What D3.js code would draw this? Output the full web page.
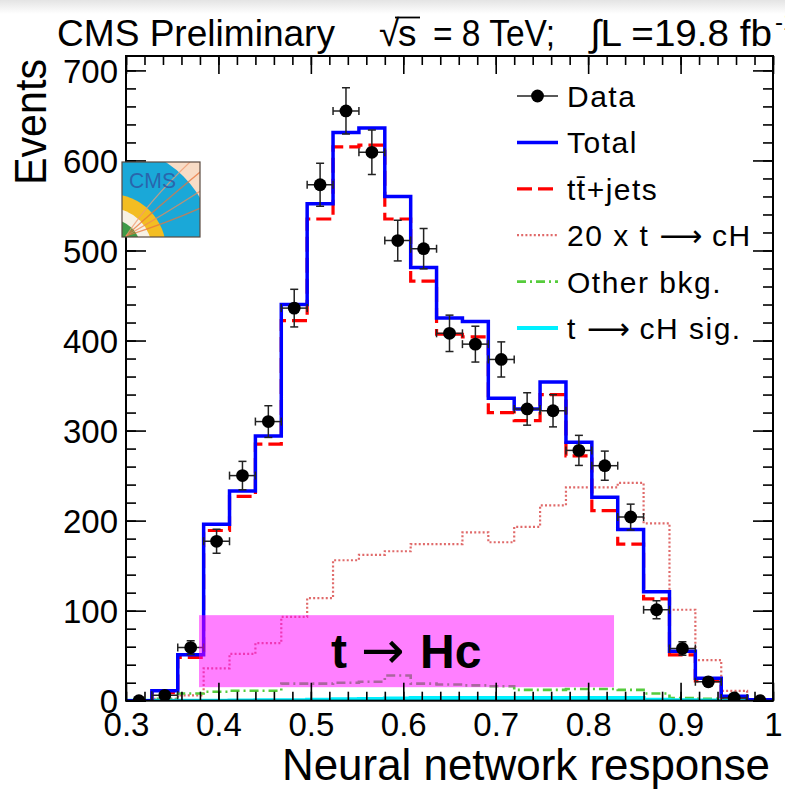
<!DOCTYPE html>
<html><head><meta charset="utf-8">
<script src="https://cdn.jsdelivr.net/npm/d3@7"></script>
<style>
html,body{margin:0;padding:0;background:#fff;}
svg{display:block;}
text{font-family:"Liberation Sans",Arial,Helvetica,sans-serif;}
</style></head>
<body>
<svg id="chart" width="785" height="789"></svg>
<script>
// Neural network response, 25 bins from 0.3 to 1.0
const xLow = 0.3, xHigh = 1.0, nBins = 25;
const dataCounts = [0, 6, 59, 177, 250, 310, 436, 573, 655, 609, 511, 502, 408, 396, 379, 324, 322, 278, 261, 204, 101, 58, 21, 3, 0];
const dataErrors = [0, 2.4, 7.7, 13.3, 15.8, 17.6, 20.9, 23.9, 25.6, 24.7, 22.6, 22.4, 20.2, 19.9, 19.5, 18.0, 17.9, 16.7, 16.2, 14.3, 10.0, 7.6, 4.6, 1.7, 0];
const totalPred = [0, 11, 51, 196, 233, 294, 440, 552, 631, 636, 560, 481, 425, 421, 336, 324, 354, 287, 226, 190, 121, 55, 25, 5, 1];
const ttJets = [0, 9, 48, 189, 227, 285, 422, 535, 615, 617, 535, 466, 407, 404, 320, 311, 340, 272, 211, 174, 113, 51, 22, 4, 1];
const signalX20 = [0, 2, 6, 36, 52, 64, 93, 114, 156, 162, 166, 174, 174, 187, 176, 193, 217, 237, 237, 242, 197, 101, 45, 11, 1];
const otherBkg = [0.5, 2, 8, 10, 11, 11, 19, 19, 20, 21, 28, 19, 18, 17, 16, 12, 12, 13, 13, 12, 8, 3, 2, 1, 0.5];
const signal = [0, 0, 0, 0, 0.2, 0.4, 0.6, 1, 1.5, 2, 2.5, 3, 3, 3, 3, 3, 3, 3, 3, 3, 1, 0.5, 0.2, 0, 0];

const xTickValues = [0.3, 0.4, 0.5, 0.6, 0.7, 0.8, 0.9, 1.0];
const xTickLabels = ["0.3", "0.4", "0.5", "0.6", "0.7", "0.8", "0.9", "1"];
const yTickValues = [0, 100, 200, 300, 400, 500, 600, 700];
const yTickLabels = ["0", "100", "200", "300", "400", "500", "600", "700"];
// legend entries: [text before arrow, arrow?, text after arrow]
const legendLabels = [["Data"], ["Total"], ["tt\u0304+jets"], ["20 x t ", "\u27F6", " cH"], ["Other bkg."], ["t ", "\u27F6", " cH sig."]];

const svg = d3.select("#chart");
const W = 785, H = 789;
const frame = {left: 126, right: 773, top: 56, bottom: 700.7};
const yMax = 716;

const x = d3.scaleLinear().domain([xLow, xHigh]).range([frame.left, frame.right]);
const y = d3.scaleLinear().domain([0, yMax]).range([frame.bottom, frame.top]);
const binW = (xHigh - xLow) / nBins;
const edges = d3.range(nBins + 1).map(i => xLow + i * binW);

const defs = svg.append("defs");
const grad = defs.append("linearGradient").attr("id", "topShade").attr("x1", 0).attr("y1", 0).attr("x2", 0).attr("y2", 1);
grad.append("stop").attr("offset", "0%").attr("stop-color", "#e4e4e4");
grad.append("stop").attr("offset", "100%").attr("stop-color", "#ffffff");
defs.append("clipPath").attr("id", "plotClip").append("rect")
  .attr("x", frame.left).attr("y", frame.top)
  .attr("width", frame.right - frame.left).attr("height", frame.bottom - frame.top);

svg.append("rect").attr("width", W).attr("height", H).attr("fill", "#fff");
svg.append("rect").attr("width", W).attr("height", 14).attr("fill", "url(#topShade)");

// header
svg.append("text").attr("x", 57).attr("y", 46).attr("font-size", 37)
  .attr("textLength", 278).attr("lengthAdjust", "spacingAndGlyphs").text("CMS Preliminary");
const hdr = svg.append("g").attr("font-size", 37);
hdr.append("text").attr("x", 379).attr("y", 46).text("\u221A");
hdr.append("text").attr("x", 398).attr("y", 46).text("s");
hdr.append("line").attr("x1", 395).attr("x2", 420).attr("y1", 17.5).attr("y2", 17.5).attr("stroke", "#000").attr("stroke-width", 1.8);
hdr.append("text").attr("x", 433).attr("y", 46).attr("textLength", 122).attr("lengthAdjust", "spacingAndGlyphs").text("= 8 TeV;");
hdr.append("text").attr("x", 590).attr("y", 46).attr("textLength", 182).attr("lengthAdjust", "spacingAndGlyphs").text("\u222BL =19.8 fb");
hdr.append("text").attr("x", 775).attr("y", 30).attr("font-size", 24).text("-1");

// histograms
const step = d3.line().x(d => x(d[0])).y(d => y(d[1])).curve(d3.curveStepAfter);
const histPts = vals => vals.map((v, i) => [edges[i], v]).concat([[edges[nBins], vals[nBins - 1]]]);
const plot = svg.append("g").attr("clip-path", "url(#plotClip)");

const styles = {
  sig20: {stroke: "#e06a6a", width: 2.2, dash: "2,2.2"},
  other: {stroke: "#55cc3c", width: 2.6, dash: "9,4,2,4"},
  sig: {stroke: "#00f0ff", width: 4, dash: null},
  tt: {stroke: "#ff0000", width: 3.2, dash: "15,6"},
  total: {stroke: "#0000ff", width: 3.5, dash: null}
};
const drawHist = (vals, s) => plot.append("path").attr("d", step(histPts(vals)))
  .attr("fill", "none").attr("stroke", s.stroke).attr("stroke-width", s.width)
  .attr("stroke-dasharray", s.dash);
drawHist(signalX20, styles.sig20);
drawHist(otherBkg, styles.other);
drawHist(signal, styles.sig);
drawHist(ttJets, styles.tt);
drawHist(totalPred, styles.total);

// data points with error bars
const pts = plot.append("g").attr("stroke", "#222").attr("stroke-width", 1.5);
dataCounts.forEach((v, i) => {
  const cx = x(edges[i] + binW / 2), cy = y(v);
  const xl = x(edges[i]), xr = x(edges[i + 1]);
  pts.append("line").attr("x1", xl).attr("x2", xr).attr("y1", cy).attr("y2", cy);
  pts.append("line").attr("x1", xl).attr("x2", xl).attr("y1", cy - 4).attr("y2", cy + 4);
  pts.append("line").attr("x1", xr).attr("x2", xr).attr("y1", cy - 4).attr("y2", cy + 4);
  const e = dataErrors[i];
  if (e > 0) {
    const yt = y(v + e), yb = y(Math.max(0, v - e));
    pts.append("line").attr("x1", cx).attr("x2", cx).attr("y1", yt).attr("y2", yb);
    pts.append("line").attr("x1", cx - 4).attr("x2", cx + 4).attr("y1", yt).attr("y2", yt);
    pts.append("line").attr("x1", cx - 4).attr("x2", cx + 4).attr("y1", yb).attr("y2", yb);
  }
});
plot.append("g").selectAll("circle").data(dataCounts).join("circle")
  .attr("cx", (d, i) => x(edges[i] + binW / 2)).attr("cy", d => y(d))
  .attr("r", 6.4).attr("fill", "#000");

// highlighted region label
const boxX = [0.379, 0.828], boxY = [15, 95];
svg.append("rect").attr("x", x(boxX[0])).attr("y", y(boxY[1]))
  .attr("width", x(boxX[1]) - x(boxX[0])).attr("height", y(boxY[0]) - y(boxY[1]))
  .attr("fill", "#ff00ff").attr("fill-opacity", 0.5);
const boxLabel = svg.append("text").attr("y", 668).attr("font-size", 48).attr("font-weight", "bold");
boxLabel.append("tspan").attr("x", 331).text("t");
boxLabel.append("tspan").attr("x", 361).attr("font-family", "DejaVu Sans, sans-serif")
  .attr("font-weight", "normal").attr("font-size", 52).text("\u2192");
boxLabel.append("tspan").attr("x", 420).text("Hc");

// axes: inward ticks on all four sides
const axG = svg.append("g").attr("font-size", 33);
const minorX = d3.range(0, 36).map(i => xLow + i * 0.02).filter(v => v <= xHigh + 1e-9);
const minorY = d3.range(0, 36).map(i => i * 20).filter(v => v <= yMax);
const styleAxis = g => { g.select(".domain").remove(); g.selectAll("line").attr("stroke", "#000").attr("stroke-width", 1.6); };

axG.append("g").attr("transform", `translate(0,${frame.bottom})`)
  .call(d3.axisBottom(x).tickValues(minorX).tickSize(-9).tickFormat("")).call(styleAxis);
axG.append("g").attr("transform", `translate(0,${frame.bottom})`)
  .call(d3.axisBottom(x).tickValues(xTickValues).tickSize(-18).tickFormat((d, i) => xTickLabels[i]))
  .call(styleAxis)
  .call(g => g.selectAll("text").attr("y", 35).attr("dy", 0).attr("fill", "#000")
    .attr("font-family", "Liberation Sans, Arial, sans-serif").attr("font-size", 33));
axG.append("g").attr("transform", `translate(0,${frame.top})`)
  .call(d3.axisTop(x).tickValues(minorX).tickSize(-9).tickFormat("")).call(styleAxis);
axG.append("g").attr("transform", `translate(0,${frame.top})`)
  .call(d3.axisTop(x).tickValues(xTickValues).tickSize(-18).tickFormat("")).call(styleAxis);

axG.append("g").attr("transform", `translate(${frame.left},0)`)
  .call(d3.axisLeft(y).tickValues(minorY).tickSize(-10).tickFormat("")).call(styleAxis);
axG.append("g").attr("transform", `translate(${frame.left},0)`)
  .call(d3.axisLeft(y).tickValues(yTickValues).tickSize(-20).tickFormat((d, i) => yTickLabels[i]))
  .call(styleAxis)
  .call(g => g.selectAll("text").attr("x", -8).attr("dy", "0.36em").attr("fill", "#000")
    .attr("font-family", "Liberation Sans, Arial, sans-serif").attr("font-size", 33));
axG.append("g").attr("transform", `translate(${frame.right},0)`)
  .call(d3.axisRight(y).tickValues(minorY).tickSize(-10).tickFormat("")).call(styleAxis);
axG.append("g").attr("transform", `translate(${frame.right},0)`)
  .call(d3.axisRight(y).tickValues(yTickValues).tickSize(-20).tickFormat("")).call(styleAxis);

svg.append("rect").attr("x", frame.left).attr("y", frame.top)
  .attr("width", frame.right - frame.left).attr("height", frame.bottom - frame.top)
  .attr("fill", "none").attr("stroke", "#000").attr("stroke-width", 2);

// axis titles
svg.append("text").attr("x", 770).attr("y", 780).attr("text-anchor", "end")
  .attr("font-size", 44).attr("textLength", 488).attr("lengthAdjust", "spacingAndGlyphs")
  .text("Neural network response");
svg.append("text").attr("transform", "translate(46,59) rotate(-90)").attr("text-anchor", "end")
  .attr("font-size", 44).attr("textLength", 126).attr("lengthAdjust", "spacingAndGlyphs")
  .text("Events");

// legend
const legY0 = 107, legDy = 46.4, legX1 = 517, legX2 = 558, legTx = 567;
const legStyles = [null, styles.total, styles.tt, styles.sig20, styles.other, styles.sig];
const leg = svg.append("g");
legendLabels.forEach((parts, i) => {
  const by = legY0 + i * legDy, ly = by - 11;
  if (i === 0) {
    leg.append("line").attr("x1", legX1).attr("x2", legX2).attr("y1", ly).attr("y2", ly)
      .attr("stroke", "#222").attr("stroke-width", 1.5);
    leg.append("circle").attr("cx", (legX1 + legX2) / 2).attr("cy", ly).attr("r", 6.4).attr("fill", "#000");
  } else {
    const s = legStyles[i];
    leg.append("line").attr("x1", legX1).attr("x2", legX2).attr("y1", ly).attr("y2", ly)
      .attr("stroke", s.stroke).attr("stroke-width", s.width).attr("stroke-dasharray", s.dash);
  }
  const t = leg.append("text").attr("x", legTx).attr("y", by).attr("font-size", 30).attr("letter-spacing", 1.5);
  parts.forEach((p, k) => {
    const sp = t.append("tspan").text(p);
    if (k === 1) sp.attr("font-family", "DejaVu Sans, sans-serif").attr("letter-spacing", 0);
  });
});

// CMS logo
const lg = {x: 122, y: 162, w: 78, h: 75};
defs.append("clipPath").attr("id", "logoClip").append("rect")
  .attr("x", lg.x).attr("y", lg.y).attr("width", lg.w).attr("height", lg.h);
const logo = svg.append("g").attr("clip-path", "url(#logoClip)");
logo.append("rect").attr("x", lg.x).attr("y", lg.y).attr("width", lg.w).attr("height", lg.h).attr("fill", "#f8dcc6");
const lc = [110, 250];
[[104, "#1aa8d8"], [56, "#f3bd22"], [42, "#f7f1e4"], [31, "#3f9a48"]].forEach(([r, c]) =>
  logo.append("circle").attr("cx", lc[0]).attr("cy", lc[1]).attr("r", r).attr("fill", c));
[["M126,236 Q160,205 205,168", "#e8743c"], ["M126,236 Q165,214 205,188", "#ef8a55"],
 ["M126,236 Q170,222 205,206", "#e8743c"], ["M126,236 Q150,200 190,162", "#f09a70"]].forEach(([d, c]) =>
  logo.append("path").attr("d", d).attr("fill", "none").attr("stroke", c).attr("stroke-width", 1.2).attr("opacity", 0.75));
logo.append("text").attr("x", 129).attr("y", 188).attr("font-size", 22)
  .attr("font-family", "Liberation Serif, serif").attr("fill", "#2f4f9e").attr("fill-opacity", 0.75)
  .attr("textLength", 47).attr("lengthAdjust", "spacingAndGlyphs").text("CMS");
svg.append("rect").attr("x", lg.x).attr("y", lg.y).attr("width", lg.w).attr("height", lg.h)
  .attr("fill", "none").attr("stroke", "#5a4a40").attr("stroke-width", 1.2);
</script>
</body></html>
